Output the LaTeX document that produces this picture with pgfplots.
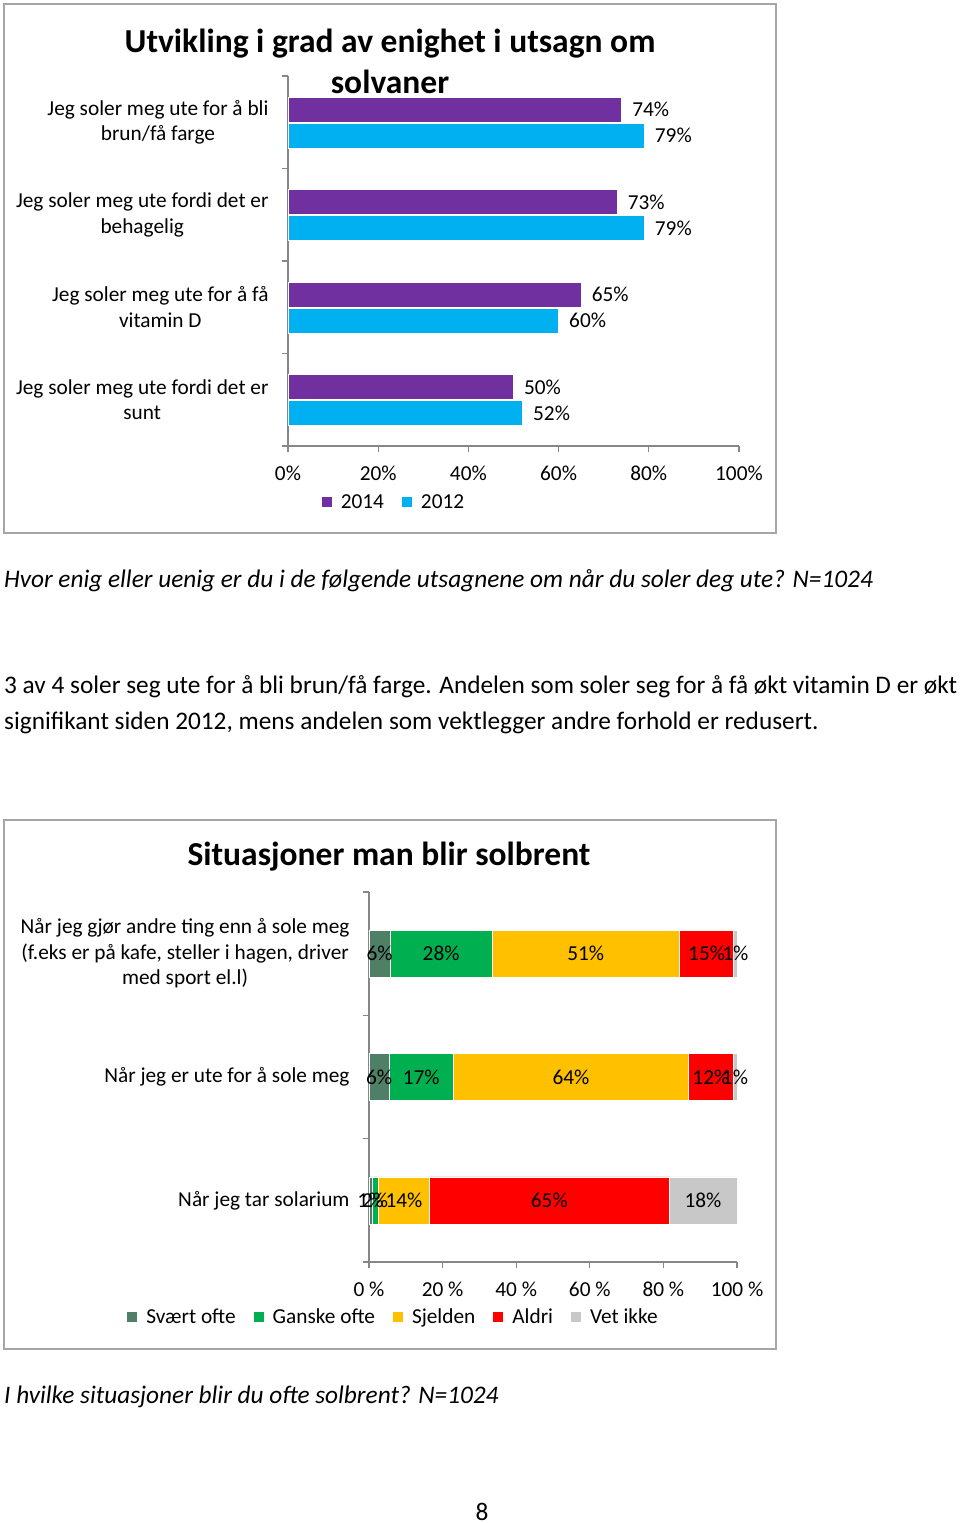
\documentclass[border=0pt]{standalone}
\usepackage{pgfplots}
\pgfplotsset{compat=1.18}
\usepackage{fontspec}
\setmainfont{Carlito}

\definecolor{p14}{HTML}{7030A0}
\definecolor{c12}{HTML}{00B0F0}
\definecolor{sv}{HTML}{4F7F67}
\definecolor{ga}{HTML}{00B050}
\definecolor{sj}{HTML}{FFC000}
\definecolor{al}{HTML}{FF0000}
\definecolor{vi}{HTML}{C8C8C8}
\definecolor{axgray}{HTML}{868686}
\definecolor{framegray}{HTML}{A6A6A6}

\newcommand{\chartfont}{\fontsize{21.3}{25.5}\selectfont}
\newcommand{\bodyfont}{\fontsize{25.3}{30}\selectfont}

\pgfplotsset{
  solstyle/.style={
    scale only axis,
    /pgf/number format/assume math mode=true,
    font=\chartfont,
    axis lines*=left,
    axis line style={axgray, line width=1.2pt},
    tick style={axgray, line width=1.2pt},
    tick align=outside,
    major tick length=6pt,
    xmin=0, xmax=100,
    xtick={0,20,...,100},
    y tick label as interval,
    yticklabel style={align=center, xshift=-10pt},
    xticklabel style={yshift=-10pt},
    legend style={draw=none, fill=none, font=\chartfont, legend columns=-1,
      anchor=center,
      /tikz/every odd column/.append style={column sep=7pt},
      /tikz/every even column/.append style={column sep=16pt}},
  },
  sqlegend/.style={
    legend image code/.code={\fill[##1, draw=none] (0pt,-5pt) rectangle (10pt,5pt);},
  },
}

\begin{document}
\begin{tikzpicture}[x=1pt, y=1pt]
\useasboundingbox (0,0) rectangle (960,1523);

% chart 1
\draw[framegray, line width=1.5pt] (4,990) rectangle (776,1519);
\begin{axis}[solstyle,
  at={(288pt,1077pt)}, anchor=south west,
  width=451pt, height=370pt,
  xbar, bar width=25pt, sqlegend,
  ymin=-0.5, ymax=3.5, ytick={-0.5,0.5,1.5,2.5,3.5},
  yticklabels={{Jeg soler meg ute fordi det er\\sunt},
               {Jeg soler meg ute for å få\\vitamin D},
               {Jeg soler meg ute fordi det er\\behagelig},
               {Jeg soler meg ute for å bli\\brun/få farge}},
  xticklabels={0\%,20\%,40\%,60\%,80\%,100\%},
  point meta=x,
  nodes near coords={\pgfmathprintnumber{\pgfplotspointmeta}\%},
  every node near coord/.append style={font=\chartfont, text=black, xshift=7pt},
  legend style={at={(0.235,-0.151)}},
  ]
  \addplot[fill=p14, draw=white, line width=0.6pt, bar shift=12.5pt]
    coordinates {(50,0) (65,1) (73,2) (74,3)};
  \addplot[fill=c12, draw=white, line width=0.6pt, bar shift=-13.5pt]
    coordinates {(52,0) (60,1) (79,2) (79,3)};
  \legend{2014,2012}
\end{axis}
\node[font=\fontsize{33.5}{41}\selectfont\bfseries, align=center] at (390,1462)
  {Utvikling i grad av enighet i utsagn om\\solvaner};

\node[anchor=base west, inner sep=0pt, font=\bodyfont\itshape] at (4,935)
  {Hvor enig eller uenig er du i de følgende utsagnene om når du soler deg ute? N=1024};
\node[anchor=base west, inner sep=0pt, font=\bodyfont] at (4,829)
  {3 av 4 soler seg ute for å bli brun/få farge. Andelen som soler seg for å få økt vitamin D er økt};
\node[anchor=base west, inner sep=0pt, font=\bodyfont] at (4,793)
  {signifikant siden 2012, mens andelen som vektlegger andre forhold er redusert.};

% chart 2
\draw[framegray, line width=1.5pt] (4,174) rectangle (776,703);
\node[font=\fontsize{33.5}{40}\selectfont\bfseries] at (389,666) {Situasjoner man blir solbrent};
\begin{axis}[solstyle,
  at={(369pt,261pt)}, anchor=south west,
  width=368pt, height=370pt,
  xbar stacked, bar width=47pt, sqlegend,
  ymin=-0.5, ymax=2.5, ytick={-0.5,0.5,1.5,2.5},
  yticklabels={Når jeg tar solarium,
               Når jeg er ute for å sole meg,
               {Når jeg gjør andre ting enn å sole meg\\(f.eks er på kafe, steller i hagen, driver\\med sport el.l)}},
  xticklabels={0 \%,20 \%,40 \%,60 \%,80 \%,100 \%},
  point meta=explicit,
  nodes near coords={\pgfmathprintnumber{\pgfplotspointmeta}\%},
  every node near coord/.append style={font=\chartfont, text=black, anchor=center},
  legend style={at={(0.0666,-0.1486)}},
  ]
  \addplot[fill=sv, draw=white, line width=0.6pt] table[x=x, y=y, meta=lab] {
    x    y  lab
    5.8  2  6
    5.5  1  6
    0.8  0  1
  };
  \addplot[fill=ga, draw=white, line width=0.6pt] table[x=x, y=y, meta=lab] {
    x    y  lab
    27.6 2  28
    17.4 1  17
    1.7  0  2
  };
  \addplot[fill=sj, draw=white, line width=0.6pt] table[x=x, y=y, meta=lab] {
    x    y  lab
    51   2  51
    64   1  64
    14   0  14
  };
  \addplot[fill=al, draw=white, line width=0.6pt] table[x=x, y=y, meta=lab] {
    x    y  lab
    14.7 2  15
    12   1  12
    65   0  65
  };
  \addplot[fill=vi, draw=white, line width=0.6pt] table[x=x, y=y, meta=lab] {
    x    y  lab
    0.9  2  1
    1.1  1  1
    18.5 0  18
  };
  \legend{Svært ofte,Ganske ofte,Sjelden,Aldri,Vet ikke}
\end{axis}

\node[anchor=base west, inner sep=0pt, font=\bodyfont\itshape] at (4,119)
  {I hvilke situasjoner blir du ofte solbrent? N=1024};
\node[anchor=base, inner sep=0pt, font=\bodyfont] at (482,2) {8};
\end{tikzpicture}
\end{document}
